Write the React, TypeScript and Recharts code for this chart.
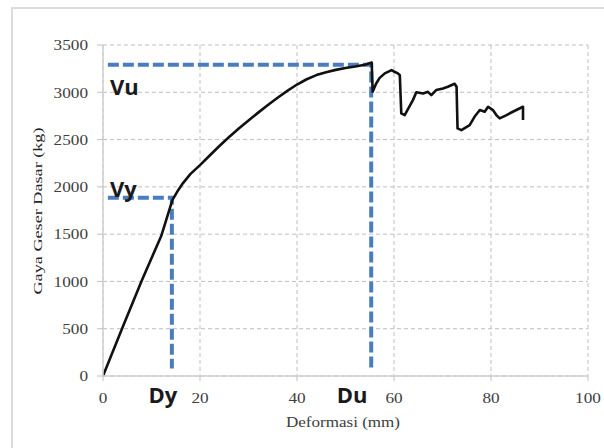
import React from 'react';
import { LineChart, Line, XAxis, YAxis, CartesianGrid, ReferenceDot, Label } from 'recharts';

// Measured curve: deformation (mm) and base shear (kg)
const deformasi = [
  0, 4, 8, 12, 14.3, 15.5, 16.5, 18, 20, 22, 24, 26, 28, 30, 32, 34, 36, 38, 40, 42, 44, 46,
  48, 50, 52, 54, 55.4, 55.6, 56.3, 57.0, 58.1, 59.5, 60.1, 60.8, 61.2, 61.5, 62.2,
  63.9, 64.6, 66.0, 67.0, 67.7, 68.7, 70.1, 71.1, 72.5, 72.9, 73.1, 73.9, 75.6, 76.6, 77.7,
  78.7, 79.4, 80.4, 81.1, 81.8, 83.2, 84.5, 86.6, 86.6,
];
const gayaGeser = [
  0, 510, 1010, 1480, 1860, 1965, 2040, 2135, 2230, 2332, 2432, 2527, 2617, 2702, 2785, 2865,
  2942, 3015, 3082, 3138, 3182, 3213, 3237, 3256, 3272, 3292, 3315, 3005, 3090, 3150, 3200,
  3235, 3217, 3200, 3180, 2777, 2759,
  2917, 3000, 2988, 3005, 2970, 3023, 3041, 3058, 3090, 3058, 2618, 2600, 2653, 2741, 2812,
  2794, 2847, 2812, 2759, 2724, 2759, 2794, 2847, 2706,
];

// Characteristic points
const VU = 3290;
const DU = 55.3;
const VY = 1885;
const DY = 14.2;
const START_X = 1;
const END_Y = 80;

const xTicks = [0, 20, 40, 60, 80, 100];
const yTicks = [0, 500, 1000, 1500, 2000, 2500, 3000, 3500];

const curve = deformasi.map((x, i) => ({ x, y: gayaGeser[i] }));
const vuLine = [
  { x: START_X, y: VU },
  { x: DU, y: VU },
  { x: DU, y: END_Y },
];
const vyLine = [
  { x: START_X, y: VY },
  { x: DY, y: VY },
  { x: DY, y: END_Y },
];

const SERIF = '"Liberation Serif", "DejaVu Serif", serif';
const SANS = '"Open Sans", "Noto Sans", sans-serif';
const BLUE = '#4a7dbf';

const YTick = (props: any) => {
  const { x, y, payload } = props;
  const s = String(payload.value);
  return (
    <text x={x} y={y} dy="0.35em" textAnchor="end" fontFamily={SERIF} fontSize={15} fill="#404040"
      textLength={s.length * 8.6} lengthAdjust="spacingAndGlyphs">{s}</text>
  );
};

const XTick = (props: any) => {
  const { x, y, payload } = props;
  const s = String(payload.value);
  return (
    <text x={x} y={y} dy="0.71em" textAnchor="middle" fontFamily={SERIF} fontSize={15} fill="#404040"
      textLength={s.length * 8.6} lengthAdjust="spacingAndGlyphs">{s}</text>
  );
};

const annot = (text: string, dx: number, dy: number, anchor: 'start' | 'middle') => (p: any) => {
  const vb = p.viewBox || {};
  const cx = (vb.x || 0) + (vb.width || 0) / 2;
  const cy = (vb.y || 0) + (vb.height || 0) / 2;
  return (
    <text x={cx + dx} y={cy + dy} textAnchor={anchor} fontFamily={SANS} fontWeight={700}
      fontSize={22} fill="#1a1a1a">{text}</text>
  );
};

export default function App() {
  return (
    <div style={{ position: 'absolute', left: 0, top: 0, width: 604, height: 448, overflow: 'hidden', background: '#fff' }}>
      <div style={{ position: 'absolute', left: 11, top: 7, width: 700, height: 600, border: '2px solid #dcdcdc', boxSizing: 'border-box' }} />
      <div style={{ position: 'absolute', left: 0, top: 0 }}>
        <LineChart width={604} height={448} margin={{ top: 45, right: 16, bottom: 0, left: 0 }}>
          <CartesianGrid stroke="#bfbfbf" strokeDasharray="4 3" />
          <XAxis type="number" dataKey="x" domain={[0, 100]} ticks={xTicks} allowDataOverflow
            axisLine={{ stroke: '#d0d0d0', strokeWidth: 1.5 }} tickLine={{ stroke: '#c0c0c0' }} tickSize={5} tickMargin={11}
            tick={<XTick />} height={72}>
            <Label content={() => (
              <text x={343} y={427} textAnchor="middle" fontFamily={SERIF} fontSize={15} fill="#404040"
                textLength={114} lengthAdjust="spacingAndGlyphs">Deformasi  (mm)</text>
            )} />
          </XAxis>
          <YAxis type="number" dataKey="y" domain={[0, 3500]} ticks={yTicks} allowDataOverflow width={103}
            axisLine={{ stroke: '#d0d0d0', strokeWidth: 1.5 }} tickLine={{ stroke: '#c0c0c0' }} tickSize={6} tickMargin={9}
            tick={<YTick />}>
            <Label content={() => (
              <text x={38} y={211} transform="rotate(-90, 38, 211)" textAnchor="middle" dominantBaseline="central"
                fontFamily={SERIF} fontSize={12} fill="#262626" textLength={167} lengthAdjust="spacingAndGlyphs">
                Gaya Geser Dasar (kg)
              </text>
            )} />
          </YAxis>
          <Line data={vuLine} dataKey="y" type="linear" stroke={BLUE} strokeWidth={4} strokeDasharray="11 4"
            dot={false} isAnimationActive={false} />
          <Line data={vyLine} dataKey="y" type="linear" stroke={BLUE} strokeWidth={4} strokeDasharray="11 4"
            dot={false} isAnimationActive={false} />
          <Line data={curve} dataKey="y" type="linear" stroke="#111" strokeWidth={2.6} strokeLinejoin="round"
            dot={false} isAnimationActive={false} />
          <ReferenceDot x={0} y={VU} r={0} fill="none" stroke="none" ifOverflow="visible" label={annot('Vu', 7, 30, 'start')} />
          <ReferenceDot x={0} y={VY} r={0} fill="none" stroke="none" ifOverflow="visible" label={annot('Vy', 7, -1, 'start')} />
          <ReferenceDot x={DY} y={0} r={0} fill="none" stroke="none" ifOverflow="visible" label={annot('Dy', -9, 27, 'middle')} />
          <ReferenceDot x={DU} y={0} r={0} fill="none" stroke="none" ifOverflow="visible" label={annot('Du', -19, 27, 'middle')} />
        </LineChart>
      </div>
    </div>
  );
}
